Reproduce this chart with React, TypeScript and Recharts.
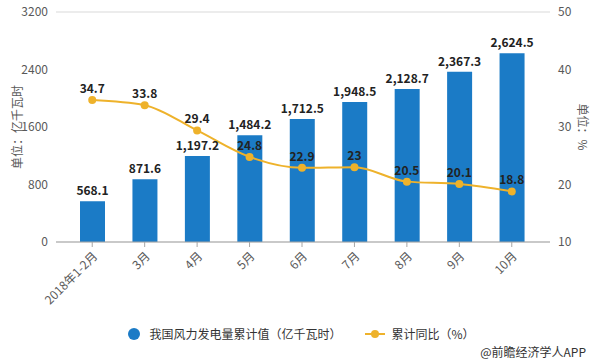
import { ComposedChart, Bar, Line, XAxis, YAxis, CartesianGrid, LabelList, Label } from 'recharts'

const months = ['2018年1-2月', '3月', '4月', '5月', '6月', '7月', '8月', '9月', '10月']
const windPower = [568.1, 871.6, 1197.2, 1484.2, 1712.5, 1948.5, 2128.7, 2367.3, 2624.5]
const yoyGrowth = [34.7, 33.8, 29.4, 24.8, 22.9, 23, 20.5, 20.1, 18.8]
const leftTicks = [0, 800, 1600, 2400, 3200]
const rightTicks = [10, 20, 30, 40, 50]

const BAR_COLOR = '#1B7BC6'
const LINE_COLOR = '#EEB22B'
const TEXT_COLOR = '#595959'

const chartData = months.map((m, i) => ({
  month: m,
  power: windPower[i],
  yoy: yoyGrowth[i],
}))

const fmtPower = (v: number) =>
  v.toLocaleString('en-US', { minimumFractionDigits: 1, maximumFractionDigits: 1 })

function LegendBox() {
  return (
    <div style={{ position: 'absolute', left: 0, top: 325, width: 592, display: 'flex', justifyContent: 'center', alignItems: 'center', fontSize: 12, color: '#333', paddingLeft: 10, boxSizing: 'border-box' }}>
      <svg width={14} height={14} style={{ marginRight: 8 }}>
        <circle cx={7} cy={7} r={6} fill={BAR_COLOR} />
      </svg>
      <span>我国风力发电量累计值（亿千瓦时）</span>
      <svg width={20} height={14} style={{ marginLeft: 24, marginRight: 6 }}>
        <line x1={0} y1={7} x2={20} y2={7} stroke={LINE_COLOR} strokeWidth={2} />
        <circle cx={10} cy={7} r={4} fill={LINE_COLOR} />
      </svg>
      <span>累计同比（%）</span>
    </div>
  )
}

export default function App() {
  return (
    <div style={{ position: 'absolute', left: 0, top: 0, width: 592, height: 364, background: '#fff', fontFamily: '"Noto Sans CJK SC", "Microsoft YaHei", sans-serif' }}>
      <ComposedChart
        width={592}
        height={364}
        data={chartData}
        margin={{ top: 12, right: 0, left: 0, bottom: 72 }}
      >
        <CartesianGrid vertical={false} stroke="#D9D9D9" />
        <XAxis
          dataKey="month"
          height={50}
          interval={0}
          padding={{ left: 10, right: 12 }}
          tick={{ fontSize: 12, fill: TEXT_COLOR, angle: -45, textAnchor: 'end', dy: 2 } as any}
          tickLine={{ stroke: '#A6A6A6' }}
          axisLine={{ stroke: '#A6A6A6' }}
          tickSize={5}
        />
        <YAxis
          yAxisId="left"
          width={56}
          domain={[0, 3200]}
          ticks={leftTicks}
          axisLine={false}
          tickLine={false}
          tick={{ fontSize: 12, fill: TEXT_COLOR }}
        >
          <Label value="单位：亿千瓦时" angle={-90} position="insideLeft" offset={18} style={{ fontSize: 12, fill: TEXT_COLOR, textAnchor: 'middle' }} />
        </YAxis>
        <YAxis
          yAxisId="right"
          orientation="right"
          width={42}
          domain={[10, 50]}
          ticks={rightTicks}
          axisLine={false}
          tickLine={false}
          tick={{ fontSize: 12, fill: TEXT_COLOR }}
        >
          <Label value="单位：%" angle={90} position="insideRight" offset={10} style={{ fontSize: 12, fill: TEXT_COLOR, textAnchor: 'middle' }} />
        </YAxis>
        <Bar yAxisId="left" dataKey="power" fill={BAR_COLOR} barSize={25} isAnimationActive={false}>
          <LabelList dataKey="power" position="top" offset={6} formatter={(v: any) => fmtPower(Number(v))} style={{ fontSize: 12, fontWeight: 'bold', fill: '#222' }} />
        </Bar>
        <Line
          yAxisId="right"
          type="monotone"
          dataKey="yoy"
          stroke={LINE_COLOR}
          strokeWidth={2}
          dot={{ r: 4, fill: LINE_COLOR, stroke: LINE_COLOR, strokeWidth: 0 }}
          isAnimationActive={false}
        >
          <LabelList dataKey="yoy" position="top" offset={7} style={{ fontSize: 12, fontWeight: 'bold', fill: '#222' }} />
        </Line>
      </ComposedChart>
      <LegendBox />
      <div style={{ position: 'absolute', right: 6, bottom: 4, fontSize: 12, color: '#333' }}>@前瞻经济学人APP</div>
    </div>
  )
}
